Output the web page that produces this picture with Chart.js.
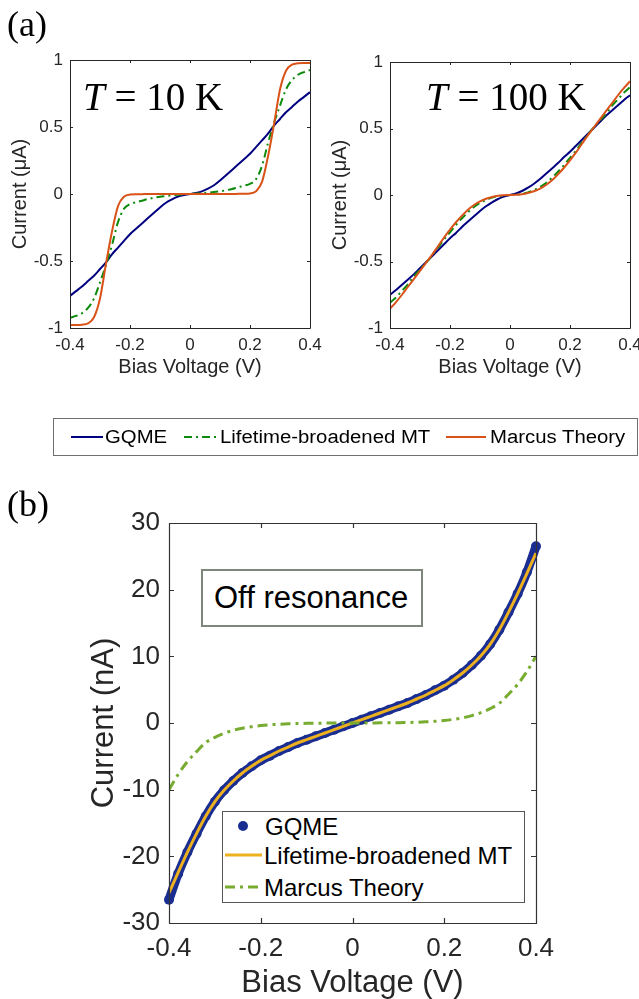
<!DOCTYPE html>
<html>
<head>
<meta charset="utf-8">
<script src="https://cdn.jsdelivr.net/npm/chart.js@4.4.1/dist/chart.umd.min.js"></script>
<style>
    body { margin: 0; background: #fff; }
    #page { position: relative; width: 639px; height: 999px; overflow: hidden; font-family: "Liberation Sans", Arial, sans-serif; }
    canvas { position: absolute; }
    .serif { position: absolute; font-family: "Liberation Serif", "Times New Roman", serif; white-space: nowrap; line-height: 1; color: #000; }
    .txt { position: absolute; white-space: nowrap; line-height: 1; color: #000; }
    .box { position: absolute; box-sizing: border-box; background: #fff; }
    svg { position: absolute; overflow: visible; }
</style>
</head>
<body>
<div id="page">
    <canvas id="chartT10" width="330" height="390" style="left:0;top:0"></canvas>
    <canvas id="chartT100" width="319" height="390" style="left:320px;top:0"></canvas>
    <canvas id="chartOff" width="639" height="529" style="left:0;top:470px"></canvas>

    <div class="serif" style="left:7px;top:6px;font-size:36px">(a)</div>
    <div class="serif" style="left:83px;top:77px;font-size:39px"><i>T</i> = 10 K</div>
    <div class="serif" style="left:426px;top:77px;font-size:39px"><i>T</i> = 100 K</div>

    <div class="box" style="left:53px;top:418px;width:585px;height:38px;border:1px solid #6f6f6f"></div>
    <svg style="left:0;top:0" width="639" height="470">
        <line x1="71" y1="437" x2="103" y2="437" stroke="#000080" stroke-width="2"/>
        <line x1="184" y1="437" x2="216" y2="437" stroke="#0b8a0b" stroke-width="2" stroke-dasharray="8,4,2,4"/>
        <line x1="446" y1="437" x2="486" y2="437" stroke="#d95319" stroke-width="2"/>
    </svg>
    <div class="txt" style="left:105px;top:428px;font-size:18px;transform:scaleX(1.13);transform-origin:left">GQME</div>
    <div class="txt" style="left:220px;top:428px;font-size:18px;transform:scaleX(1.13);transform-origin:left">Lifetime-broadened MT</div>
    <div class="txt" style="left:490px;top:428px;font-size:18px;transform:scaleX(1.13);transform-origin:left">Marcus Theory</div>

    <div class="serif" style="left:7px;top:486px;font-size:36px">(b)</div>
    <div class="box" style="left:201px;top:569px;width:222px;height:58px;border:2px solid #7d877a"></div>
    <div class="txt" style="left:214px;top:582px;font-size:31px">Off resonance</div>

    <div class="box" style="left:222px;top:811px;width:303px;height:92px;border:1px solid #555"></div>
    <svg style="left:0;top:0" width="639" height="999">
        <circle cx="243" cy="826" r="5" fill="#1a2e92"/>
        <line x1="225" y1="855" x2="262" y2="855" stroke="#edb120" stroke-width="3"/>
        <line x1="225" y1="887" x2="262" y2="887" stroke="#77ac30" stroke-width="3" stroke-dasharray="10,5,3,5"/>
    </svg>
    <div class="txt" style="left:265px;top:815px;font-size:24px">GQME</div>
    <div class="txt" style="left:264px;top:844px;font-size:24px">Lifetime-broadened MT</div>
    <div class="txt" style="left:264px;top:876px;font-size:24px">Marcus Theory</div>
</div>

<script>
// bias voltage grid (V), shared by all three panels
const voltage = [-0.4, -0.38, -0.36, -0.34, -0.32, -0.3, -0.28, -0.26, -0.24, -0.22, -0.2,
    -0.18, -0.16, -0.14, -0.12, -0.1, -0.08, -0.06, -0.04, -0.02, 0,
    0.02, 0.04, 0.06, 0.08, 0.1, 0.12, 0.14, 0.16, 0.18, 0.2,
    0.22, 0.24, 0.26, 0.28, 0.3, 0.32, 0.34, 0.36, 0.38, 0.4];

// (a) T = 10 K, current in uA
const gqme10 = [-0.76, -0.725, -0.69, -0.65, -0.61, -0.56, -0.51, -0.45, -0.40, -0.35, -0.30,
    -0.26, -0.22, -0.18, -0.14, -0.10, -0.065, -0.04, -0.02, -0.008, 0,
    0.008, 0.02, 0.04, 0.065, 0.10, 0.14, 0.18, 0.22, 0.26, 0.30,
    0.35, 0.40, 0.45, 0.51, 0.56, 0.61, 0.65, 0.69, 0.725, 0.76];
const lbmt10 = [-0.925, -0.91, -0.89, -0.85, -0.78, -0.66, -0.53, -0.38, -0.21, -0.11, -0.075,
    -0.062, -0.05, -0.037, -0.028, -0.02, -0.015, -0.01, -0.006, -0.003, 0,
    0.003, 0.006, 0.01, 0.015, 0.02, 0.028, 0.037, 0.05, 0.062, 0.075,
    0.11, 0.21, 0.38, 0.53, 0.66, 0.78, 0.85, 0.89, 0.91, 0.925];
const marcus10 = [-0.977, -0.977, -0.975, -0.965, -0.92, -0.78, -0.52, -0.28, -0.09, -0.02, -0.004,
    -0.002, -0.001, 0, 0, 0, 0, 0, 0, 0, 0,
    0, 0, 0, 0, 0, 0, 0, 0.001, 0.002, 0.004,
    0.02, 0.09, 0.28, 0.52, 0.78, 0.92, 0.965, 0.975, 0.977, 0.977];

// (a) T = 100 K, current in uA
const gqme100 = [-0.75, -0.715, -0.675, -0.635, -0.595, -0.55, -0.505, -0.46, -0.415, -0.37, -0.325,
    -0.285, -0.24, -0.20, -0.16, -0.12, -0.085, -0.055, -0.03, -0.012, 0,
    0.012, 0.03, 0.055, 0.085, 0.12, 0.16, 0.20, 0.24, 0.285, 0.325,
    0.37, 0.415, 0.46, 0.505, 0.55, 0.595, 0.635, 0.675, 0.715, 0.75];
const lbmt100 = [-0.81, -0.77, -0.72, -0.67, -0.61, -0.56, -0.51, -0.455, -0.395, -0.335, -0.28,
    -0.225, -0.175, -0.13, -0.09, -0.06, -0.037, -0.02, -0.009, -0.003, 0,
    0.003, 0.009, 0.02, 0.037, 0.06, 0.09, 0.13, 0.175, 0.225, 0.28,
    0.335, 0.395, 0.455, 0.51, 0.56, 0.61, 0.67, 0.72, 0.77, 0.81];
const marcus100 = [-0.855, -0.805, -0.75, -0.69, -0.63, -0.57, -0.51, -0.45, -0.385, -0.32, -0.26,
    -0.205, -0.155, -0.11, -0.075, -0.048, -0.028, -0.015, -0.006, -0.002, 0,
    0.002, 0.006, 0.015, 0.028, 0.048, 0.075, 0.11, 0.155, 0.205, 0.26,
    0.32, 0.385, 0.45, 0.51, 0.57, 0.63, 0.69, 0.75, 0.805, 0.855];

// (b) off resonance, current in nA
const gqmeOff = [-26.5, -22.6, -19.4, -16.6, -14.0, -11.8, -10.1, -8.7, -7.5, -6.5, -5.6,
    -4.9, -4.2, -3.6, -3.0, -2.5, -2.0, -1.5, -1.0, -0.5, 0,
    0.5, 1.0, 1.5, 2.0, 2.5, 3.0, 3.6, 4.2, 4.9, 5.6,
    6.5, 7.5, 8.7, 10.1, 11.8, 14.0, 16.6, 19.4, 22.6, 26.5];
const lbmtOff = [-25.5, -22.4, -19.4, -16.6, -14.0, -11.8, -10.1, -8.7, -7.5, -6.5, -5.6,
    -4.9, -4.2, -3.6, -3.0, -2.5, -2.0, -1.5, -1.0, -0.5, 0,
    0.5, 1.0, 1.5, 2.0, 2.5, 3.0, 3.6, 4.2, 4.9, 5.6,
    6.5, 7.5, 8.7, 10.1, 11.8, 14.0, 16.6, 19.4, 22.4, 25.5];
const marcusOff = [-10.0, -7.7, -5.8, -4.3, -2.95, -2.15, -1.55, -1.1, -0.78, -0.55, -0.38,
    -0.26, -0.18, -0.12, -0.08, -0.05, -0.03, -0.02, -0.01, -0.005, 0,
    0.005, 0.01, 0.02, 0.03, 0.05, 0.08, 0.12, 0.18, 0.26, 0.38,
    0.55, 0.78, 1.1, 1.55, 2.15, 2.95, 4.3, 5.8, 7.7, 10.0];

// ticks
const voltageTicks = [-0.4, -0.2, 0, 0.2, 0.4];
const voltageTickLabels = ['-0.4', '-0.2', '0', '0.2', '0.4'];
const microTicks = [-1, -0.5, 0, 0.5, 1];
const microTickLabels = ['-1', '-0.5', '0', '0.5', '1'];
const nanoTicks = [-30, -20, -10, 0, 10, 20, 30];
const nanoTickLabels = ['-30', '-20', '-10', '0', '10', '20', '30'];

Chart.defaults.font.family = '"Liberation Sans", Arial, sans-serif';
Chart.defaults.color = '#262626';

function toPoints(xs, ys) {
    return xs.map((x, i) => ({ x: x, y: ys[i] }));
}

// MATLAB style box with inward tick marks
const boxPlugin = {
    id: 'matlabBox',
    afterDatasetsDraw(chart, args, opts) {
        const ctx = chart.ctx;
        const a = chart.chartArea;
        const xs = chart.scales.x;
        const ys = chart.scales.y;
        const len = opts.len;
        ctx.save();
        ctx.strokeStyle = opts.color;
        ctx.lineWidth = opts.width;
        ctx.beginPath();
        ctx.rect(a.left + 0.5, a.top + 0.5, a.right - a.left, a.bottom - a.top);
        xs.ticks.forEach(t => {
            const px = Math.round(xs.getPixelForValue(t.value)) + 0.5;
            ctx.moveTo(px, a.bottom);
            ctx.lineTo(px, a.bottom - len);
            ctx.moveTo(px, a.top);
            ctx.lineTo(px, a.top + len);
        });
        ys.ticks.forEach(t => {
            const py = Math.round(ys.getPixelForValue(t.value)) + 0.5;
            ctx.moveTo(a.left, py);
            ctx.lineTo(a.left + len, py);
            ctx.moveTo(a.right, py);
            ctx.lineTo(a.right - len, py);
        });
        ctx.stroke();
        ctx.restore();
    }
};

function fixedScale(opts) {
    return {
        type: 'linear',
        min: opts.min,
        max: opts.max,
        grid: { display: false, drawTicks: false },
        border: { display: false },
        afterBuildTicks: scale => {
            scale.ticks = opts.ticks.map(v => ({ value: v }));
        },
        afterFit: scale => {
            if (opts.width) scale.width = opts.width;
            if (opts.height) scale.height = opts.height;
            scale.paddingLeft = 0;
            scale.paddingRight = 0;
        },
        ticks: {
            font: { size: opts.tickSize },
            padding: opts.tickPad,
            maxRotation: 0,
            autoSkip: false,
            callback: (value, index) => opts.labels[index]
        },
        title: {
            display: true,
            text: opts.title,
            color: '#262626',
            font: { size: opts.titleSize, lineHeight: opts.titleLine },
            padding: opts.titlePad
        }
    };
}

function smallPanel(id, padRight, padTop, gqme, lbmt, marcus) {
    new Chart(document.getElementById(id), {
        type: 'scatter',
        data: {
            datasets: [
                { label: 'Marcus Theory', data: toPoints(voltage, marcus), showLine: true,
                  borderColor: '#d95319', borderWidth: 2, pointRadius: 0,
                  cubicInterpolationMode: 'monotone', order: 1 },
                { label: 'Lifetime-broadened MT', data: toPoints(voltage, lbmt), showLine: true,
                  borderColor: '#0b8a0b', borderWidth: 2, borderDash: [8, 4, 2, 4], pointRadius: 0,
                  cubicInterpolationMode: 'monotone', order: 2 },
                { label: 'GQME', data: toPoints(voltage, gqme), showLine: true,
                  borderColor: '#000080', borderWidth: 2, pointRadius: 0,
                  cubicInterpolationMode: 'monotone', order: 3 }
            ]
        },
        options: {
            responsive: false,
            animation: false,
            events: [],
            layout: { padding: { left: 5, right: padRight, top: padTop, bottom: 7 } },
            plugins: {
                legend: { display: false },
                tooltip: { enabled: false },
                matlabBox: { color: '#262626', width: 1, len: 3 }
            },
            scales: {
                x: fixedScale({ min: -0.4, max: 0.4, ticks: voltageTicks, labels: voltageTickLabels,
                    height: 55, tickSize: 17, tickPad: 7, title: 'Bias Voltage (V)', titleSize: 20,
                    titleLine: 1.2, titlePad: { top: 4, bottom: 4 } }),
                y: fixedScale({ min: -1, max: 1, ticks: microTicks, labels: microTickLabels,
                    width: 65, tickSize: 17, tickPad: 7, title: 'Current (\u03bcA)', titleSize: 20,
                    titleLine: 1.2, titlePad: { top: 3, bottom: 4 } })
            }
        },
        plugins: [boxPlugin]
    });
}

smallPanel('chartT10', 20, 60, gqme10, lbmt10, marcus10);
smallPanel('chartT100', 9, 62, gqme100, lbmt100, marcus100);

new Chart(document.getElementById('chartOff'), {
    type: 'scatter',
    data: {
        datasets: [
            { label: 'Marcus Theory', data: toPoints(voltage, marcusOff), showLine: true,
              borderColor: '#77ac30', borderWidth: 3, borderDash: [10, 5, 3, 5], pointRadius: 0,
              cubicInterpolationMode: 'monotone', order: 1 },
            { label: 'Lifetime-broadened MT', data: toPoints(voltage, lbmtOff), showLine: true,
              borderColor: '#edb120', borderWidth: 3, pointRadius: 0,
              cubicInterpolationMode: 'monotone', order: 2 },
            { label: 'GQME', data: toPoints(voltage, gqmeOff), showLine: true,
              borderColor: '#1a2e92', borderWidth: 9, pointRadius: 5,
              pointBackgroundColor: '#1a2e92', pointBorderWidth: 0,
              cubicInterpolationMode: 'monotone', clip: false, order: 3 }
        ]
    },
    options: {
        responsive: false,
        animation: false,
        events: [],
        layout: { padding: { left: 82, right: 103, top: 53, bottom: 0 } },
        plugins: {
            legend: { display: false },
            tooltip: { enabled: false },
            matlabBox: { color: '#333333', width: 1.2, len: 5 }
        },
        scales: {
            x: fixedScale({ min: -0.4, max: 0.4, ticks: voltageTicks, labels: voltageTickLabels,
                height: 76, tickSize: 26, tickPad: 10, title: 'Bias Voltage (V)', titleSize: 31,
                titleLine: 1, titlePad: { top: 4, bottom: 0 } }),
            y: fixedScale({ min: -30, max: 30, ticks: nanoTicks, labels: nanoTickLabels,
                width: 87, tickSize: 26, tickPad: 9, title: 'Current (nA)', titleSize: 31,
                titleLine: 1.2, titlePad: { top: 4, bottom: 0 } })
        }
    },
    plugins: [boxPlugin]
});
</script>
</body>
</html>
